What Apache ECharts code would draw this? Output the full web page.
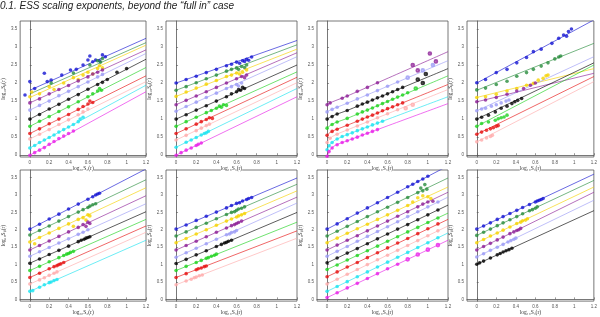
<!DOCTYPE html>
<html><head><meta charset="utf-8">
<script src="https://cdn.jsdelivr.net/npm/echarts@6/dist/echarts.min.js"></script>
<style>html,body{margin:0;padding:0;background:#fff}#c{width:600px;height:317px}</style>
</head><body><div id="c"></div>
<script>
const TITLE = '0.1. ESS scaling exponents, beyond the \u201cfull in\u201d case';
const X_TICKS = [0, 0.2, 0.4, 0.6, 0.8, 1, 1.2];
const Y_TICKS = [0, 0.5, 1, 1.5, 2, 2.5, 3, 3.5];
const X_NAME = 'log\u2081\u2080S\u2083(r)';
const Y_NAME = 'log\u2081\u2080S\u209a(r)';
const COLORS = {
  magenta: '#e81ee8', cyan: '#19e3f0', pink: '#ffaaaa', red: '#e60f0f', green: '#1ed21e',
  black: '#000000', lblue: '#9a9af5', purple: '#8c1e96', yellow: '#f5d200', dgreen: '#288c3c', blue: '#1414d2'
};
const LINE_X = [0, 1.2];
const LINE_X3 = [0, 0.03, 0.08, 0.2, 1.2];

// rows: [colour, line values at LINE_X (or null), point xs, point ys, hollow]
const P1 = [
  ['blue', [1.8, 3.24], [-0.05,0,0.05,0.15,0.18,0.22,0.33,0.42,0.48,0.55,0.6,0.62,0.65,0.68,0.72,0.75,0.78], [1.67,2.04,1.85,2.27,2.04,2.08,2.22,2.36,2.38,2.5,2.64,2.75,2.59,2.64,2.62,2.78,2.73]],
  ['dgreen', [1.7, 3.12], [0.22,0.45,0.62,0.7,0.73,0.75], [2.0,2.28,2.5,2.62,2.58,2.68]],
  ['yellow', [1.6, 3.05], [0,0.02,0.1,0.2,0.25,0.35,0.45,0.5,0.55,0.6,0.65,0.7,0.72,0.75], [1.62,1.75,1.7,1.9,1.82,2.0,2.15,2.1,2.22,2.3,2.25,2.4,2.48,2.42]],
  ['purple', [1.45, 2.92], [0,0.1,0.2,0.3,0.4,0.5,0.6,0.65,0.7,0.75], [1.45,1.56,1.7,1.82,1.93,2.06,2.17,2.25,2.3,2.36]],
  ['lblue', [1.25, 2.82], [0,0.1,0.2,0.3,0.4,0.5,0.6,0.7,0.75], [1.25,1.38,1.5,1.65,1.77,1.9,2.03,2.17,2.24]],
  ['black', [1.0, 2.66], [0,0.1,0.2,0.3,0.4,0.5,0.6,0.7,0.75,0.8,0.9,1.0], [1.0,1.13,1.28,1.41,1.55,1.68,1.83,1.96,2.02,2.1,2.3,2.4]],
  ['green', [0.8, 2.43], [0,0.1,0.2,0.3,0.4,0.5,0.6,0.65,0.7,0.72,0.74], [0.8,0.94,1.07,1.21,1.34,1.48,1.62,1.7,1.78,1.85,1.8]],
  ['red', [0.6, 2.2], [0,0.1,0.2,0.3,0.4,0.5,0.55,0.6,0.62,0.65], [0.6,0.73,0.87,1.0,1.13,1.27,1.35,1.42,1.5,1.46]],
  ['pink', [0.45, 2.04], [0,0.1,0.2,0.3,0.4,0.5,0.55,0.6], [0.45,0.58,0.71,0.85,0.98,1.12,1.2,1.28]],
  ['cyan', [0.2, 1.94], [0,0.05,0.1,0.15,0.2,0.25,0.3,0.35,0.4,0.45,0.5,0.52,0.55], [0.2,0.27,0.35,0.42,0.49,0.56,0.64,0.71,0.78,0.85,0.93,1.0,1.05]],
  ['magenta', [0, 1.76], [0,0.05,0.1,0.15,0.2,0.25,0.3,0.35,0.4,0.45], [0,0.07,0.14,0.21,0.3,0.38,0.46,0.53,0.6,0.67]]
];
const P2 = [
  ['blue', [2.0, 3.18], [0,0.1,0.2,0.3,0.4,0.5,0.55,0.6,0.63,0.66,0.68,0.7,0.72,0.75], [2.0,2.1,2.19,2.29,2.38,2.48,2.52,2.58,2.55,2.62,2.6,2.66,2.63,2.72]],
  ['dgreen', [1.8, 3.06], [0,0.1,0.2,0.3,0.4,0.5,0.55,0.6,0.62,0.65,0.68,0.7], [1.8,1.9,2.01,2.12,2.22,2.33,2.38,2.42,2.38,2.46,2.43,2.5]],
  ['yellow', [1.63, 2.94], [0,0.1,0.2,0.3,0.4,0.5,0.55,0.6,0.63,0.66,0.7], [1.63,1.75,1.86,1.97,2.07,2.18,2.22,2.28,2.25,2.3,2.36]],
  ['purple', [1.4, 2.84], [0,0.1,0.2,0.3,0.4,0.5,0.6,0.65,0.68,0.7], [1.4,1.52,1.64,1.76,1.88,2.0,2.12,2.18,2.15,2.22]],
  ['lblue', [1.22, 2.73], [0,0.1,0.2,0.3,0.4,0.5,0.55,0.6,0.62,0.65], [1.22,1.35,1.47,1.6,1.72,1.85,1.9,1.96,1.92,2.0]],
  ['black', [1.0, 2.5], [0,0.1,0.2,0.3,0.4,0.5,0.55,0.6,0.62,0.64,0.66,0.68], [1.0,1.12,1.25,1.37,1.5,1.62,1.7,1.76,1.82,1.8,1.88,1.85]],
  ['green', [0.8, 2.31], [0,0.1,0.2,0.3,0.35,0.4,0.43,0.45,0.47,0.5], [0.8,0.93,1.05,1.18,1.24,1.3,1.36,1.33,1.4,1.38]],
  ['red', [0.6, 2.16], [0,0.1,0.2,0.25,0.3,0.33,0.36], [0.6,0.73,0.86,0.93,0.99,1.04,1.02]],
  ['pink', [0.42, 2.01], [0,0.1,0.2,0.25,0.3,0.33], [0.42,0.55,0.68,0.75,0.82,0.86]],
  ['cyan', [0.22, 1.85], [0,0.1,0.15,0.2,0.25,0.28,0.3,0.32], [0.22,0.36,0.42,0.49,0.56,0.6,0.62,0.66]],
  ['magenta', [0, 1.62], [0,0.05,0.1,0.15,0.2,0.22,0.25], [0,0.07,0.14,0.2,0.27,0.3,0.34]]
];
const P3 = [
  ['purple', [1.4,1.45,1.51,1.64,2.87], [0,0.03,0.15,0.2,0.3,0.4,0.5], [1.4,1.45,1.58,1.64,1.77,1.88,2.01]],
  ['purple', null, [0.85,0.9,1.02,1.08], [2.5,2.35,2.82,2.6], true],
  ['lblue', [1.2,1.25,1.31,1.44,2.62], [0,0.05,0.1,0.2,0.3,0.4,0.5,0.6,0.7], [1.2,1.27,1.33,1.44,1.56,1.67,1.79,1.91,2.03]],
  ['lblue', null, [0.8,0.95,1.05], [2.15,2.35,2.5], true],
  ['black', [1.0,1.05,1.12,1.24,2.4], [0,0.05,0.1,0.2,0.3,0.35,0.4,0.45,0.5,0.55,0.6,0.65,0.7,0.75], [1.0,1.07,1.14,1.24,1.36,1.42,1.47,1.53,1.59,1.64,1.7,1.76,1.82,1.88]],
  ['black', null, [0.9,0.95,0.98], [2.1,2.0,2.25], true],
  ['green', [0.75,0.82,0.9,1.02,2.2], [0,0.05,0.1,0.2,0.3,0.35,0.4,0.45,0.5,0.55,0.6,0.65,0.7,0.75,0.8], [0.75,0.85,0.92,1.02,1.14,1.2,1.25,1.31,1.37,1.43,1.49,1.55,1.61,1.67,1.73]],
  ['green', null, [0.88], [1.85], true],
  ['red', [0.55,0.63,0.7,0.83,1.96], [0,0.05,0.1,0.2,0.3,0.35,0.4,0.45,0.5,0.55,0.6,0.65,0.7,0.75], [0.55,0.66,0.72,0.83,0.94,1.0,1.06,1.11,1.17,1.23,1.29,1.34,1.4,1.45]],
  ['pink', [0.35,0.47,0.56,0.7,1.82], [0,0.03,0.1,0.2,0.3,0.4,0.5,0.6,0.7], [0.35,0.47,0.58,0.7,0.81,0.92,1.04,1.15,1.26]],
  ['pink', null, [0.78,0.85], [1.3,1.4], true],
  ['cyan', [0.15,0.3,0.42,0.57,1.62], [0,0.02,0.05,0.1,0.15,0.2,0.25,0.3,0.35,0.4,0.45,0.5,0.55], [0.15,0.26,0.35,0.45,0.52,0.57,0.62,0.68,0.73,0.78,0.84,0.89,0.94]],
  ['magenta', [-0.05,0.15,0.27,0.4,1.43], [0,0.02,0.05,0.1,0.15,0.2,0.25,0.3,0.35,0.4,0.45,0.5], [-0.03,0.1,0.2,0.29,0.35,0.4,0.45,0.5,0.56,0.61,0.66,0.71]]
];
const P4 = [
  ['blue', [2.0, 3.75], [0,0.09,0.2,0.31,0.41,0.51,0.58,0.66,0.77,0.84,0.89,0.92,0.94,0.97], [2.01,2.1,2.29,2.38,2.56,2.71,2.87,2.94,3.1,3.24,3.33,3.3,3.43,3.5]],
  ['dgreen', [1.8, 3.1], [0,0.09,0.2,0.31,0.41,0.51,0.58,0.66,0.73,0.8,0.84,0.86], [1.81,1.86,1.96,2.05,2.19,2.29,2.38,2.47,2.56,2.67,2.72,2.75]],
  ['yellow', [1.6, 2.4], [0,0.09,0.2,0.31,0.41,0.51,0.58,0.63,0.68,0.71,0.73], [1.6,1.62,1.69,1.78,1.85,1.94,1.99,2.08,2.13,2.2,2.22]],
  ['purple', [1.48, 2.27], [0,0.09,0.2,0.31,0.41,0.48,0.55,0.6], [1.48,1.53,1.6,1.69,1.78,1.85,1.94,2.0]],
  ['lblue', [1.23, 2.73], [0,0.05,0.09,0.15,0.2,0.25,0.3,0.33], [1.23,1.28,1.3,1.36,1.4,1.45,1.5,1.53]],
  ['black', [1.0, 2.56], [0,0.05,0.12,0.19,0.25,0.31,0.36,0.39,0.42,0.46], [1.0,1.05,1.11,1.2,1.3,1.36,1.43,1.48,1.52,1.57]],
  ['green', [0.8, 2.5], [0,0.05,0.12,0.19,0.22,0.25,0.28,0.31], [0.8,0.88,0.92,0.97,1.01,1.04,1.06,1.11]],
  ['red', [0.58, 2.18], [0,0.05,0.1,0.14,0.17,0.2,0.22], [0.58,0.64,0.69,0.73,0.76,0.8,0.82]],
  ['pink', [0.37, 2.04], [0,0.05,0.1,0.14,0.16], [0.37,0.42,0.48,0.52,0.55]]
];
const P5 = [
  ['blue', [2.02, 3.75], [0,0.1,0.2,0.3,0.4,0.5,0.6,0.65,0.68,0.7,0.72], [2.02,2.16,2.31,2.45,2.6,2.74,2.88,2.95,3.0,3.03,3.05]],
  ['dgreen', [1.85, 3.44], [0,0.1,0.2,0.3,0.4,0.5,0.55,0.6,0.62,0.65,0.68], [1.85,1.98,2.11,2.25,2.38,2.51,2.58,2.64,2.68,2.72,2.75]],
  ['yellow', [1.65, 3.21], [0,0.05,0.1,0.2,0.3,0.4,0.45,0.5,0.55,0.58,0.6,0.62], [1.65,1.6,1.78,1.91,2.04,2.17,2.1,2.3,2.35,2.28,2.43,2.4]],
  ['purple', [1.42, 2.98], [0,0.1,0.2,0.3,0.4,0.5,0.55,0.58,0.6,0.62], [1.42,1.55,1.68,1.81,1.94,2.07,2.15,2.1,2.22,2.18]],
  ['lblue', [1.24, 2.75], [0,0.1,0.2,0.3,0.4,0.5,0.55,0.6], [1.24,1.37,1.49,1.62,1.74,1.87,1.93,2.0]],
  ['black', [1.04, 2.52], [0,0.1,0.2,0.3,0.4,0.5,0.53,0.56,0.58,0.6,0.62], [1.04,1.16,1.29,1.41,1.53,1.66,1.7,1.73,1.76,1.78,1.8]],
  ['green', [0.83, 2.3], [0,0.1,0.2,0.3,0.35,0.38,0.4,0.42,0.45], [0.83,0.95,1.08,1.2,1.26,1.3,1.32,1.35,1.38]],
  ['red', [0.63, 2.11], [0,0.1,0.2,0.25,0.28,0.3,0.32,0.35], [0.63,0.75,0.88,0.94,0.97,1.0,1.02,1.06]],
  ['pink', [0.44, 1.93], [0,0.1,0.15,0.2,0.25,0.28], [0.44,0.56,0.62,0.69,0.75,0.79]],
  ['cyan', [0.23, 1.7], [0,0.03,0.1,0.15,0.2,0.22,0.25,0.28], [0.23,0.25,0.35,0.42,0.48,0.5,0.54,0.57]]
];
const P6 = [
  ['blue', [2.02, 3.49], [0,0.1,0.2,0.3,0.4,0.5,0.55,0.6,0.63,0.66,0.7,0.72,0.75], [2.02,2.14,2.27,2.39,2.51,2.63,2.7,2.76,2.78,2.83,2.87,2.9,2.93]],
  ['dgreen', [1.82, 3.31], [0,0.1,0.2,0.3,0.4,0.5,0.55,0.58,0.6,0.62,0.65,0.68], [1.82,1.94,2.07,2.19,2.32,2.44,2.5,2.52,2.56,2.6,2.62,2.66]],
  ['yellow', [1.63, 3.12], [0,0.1,0.2,0.3,0.4,0.5,0.55,0.6,0.62,0.65,0.68], [1.63,1.75,1.88,2.0,2.13,2.25,2.31,2.37,2.4,2.43,2.47]],
  ['purple', [1.42, 2.94], [0,0.1,0.2,0.3,0.4,0.5,0.55,0.58,0.6,0.62,0.65], [1.42,1.55,1.67,1.8,1.93,2.05,2.12,2.15,2.18,2.21,2.25]],
  ['lblue', [1.21, 2.77], [0,0.1,0.2,0.3,0.4,0.5,0.53,0.55,0.58,0.6], [1.21,1.34,1.47,1.6,1.73,1.86,1.88,1.92,1.94,1.98]],
  ['black', [1.03, 2.5], [0,0.1,0.2,0.3,0.4,0.45,0.48,0.5,0.52,0.55], [1.03,1.15,1.28,1.4,1.52,1.58,1.62,1.64,1.67,1.7]],
  ['green', [0.83, 2.22], [0,0.1,0.2,0.25,0.3,0.32,0.35,0.38,0.4], [0.83,0.95,1.06,1.12,1.18,1.2,1.24,1.27,1.3]],
  ['red', [0.63, 1.97], [0,0.1,0.2,0.22,0.25,0.28,0.3], [0.63,0.74,0.85,0.88,0.9,0.94,0.96]],
  ['pink', [0.42, 1.76], [0,0.1,0.15,0.18,0.2,0.23,0.26], [0.42,0.53,0.58,0.62,0.64,0.68,0.7]]
];
const P7 = [
  ['blue', [2.02, 3.84], [0,0.1,0.2,0.3,0.4,0.5,0.6,0.7,0.8,0.85,0.9,0.95,1.0], [2.02,2.17,2.32,2.48,2.63,2.78,2.93,3.08,3.24,3.31,3.39,3.46,3.54]],
  ['dgreen', [1.82, 3.49], [0,0.1,0.2,0.3,0.4,0.5,0.6,0.7,0.8,0.9,0.93,0.95,0.97,0.99], [1.82,1.96,2.1,2.24,2.38,2.52,2.65,2.79,2.93,3.07,3.2,3.12,3.3,3.17]],
  ['yellow', [1.63, 3.23], [0,0.1,0.2,0.3,0.4,0.5,0.6,0.7,0.8,0.85,0.9,0.95,1.0,1.03], [1.63,1.76,1.9,2.03,2.16,2.3,2.43,2.56,2.7,2.8,2.92,2.98,2.95,2.9]],
  ['purple', [1.42, 3.08], [0,0.1,0.2,0.3,0.4,0.5,0.6,0.7,0.8,0.9,0.95,1.0,1.05], [1.42,1.56,1.7,1.83,1.97,2.11,2.25,2.39,2.52,2.66,2.74,2.8,2.82]],
  ['lblue', [1.24, 2.94], [0,0.1,0.2,0.3,0.4,0.5,0.6,0.7,0.8,0.9,1.0,1.1], [1.24,1.38,1.52,1.67,1.81,1.95,2.09,2.23,2.38,2.52,2.66,2.8]],
  ['black', [1.05, 2.71], [0,0.1,0.2,0.3,0.4,0.5,0.6,0.7,0.8,0.9,1.0,1.1], [1.05,1.19,1.33,1.46,1.6,1.74,1.88,2.02,2.15,2.29,2.43,2.57]],
  ['green', [0.86, 2.48], [0,0.1,0.2,0.3,0.4,0.5,0.6,0.7,0.8,0.9,1.0,1.1], [0.86,0.99,1.13,1.26,1.4,1.53,1.67,1.8,1.94,2.07,2.21,2.34]],
  ['red', [0.65, 2.3], [0,0.1,0.2,0.3,0.4,0.5,0.6,0.7,0.8,0.9,1.0,1.1], [0.65,0.79,0.93,1.06,1.2,1.34,1.48,1.62,1.75,1.89,2.03,2.17]],
  ['pink', [0.44, 2.11], [0,0.1,0.2,0.3,0.4,0.5,0.6,0.7,0.8,0.9,1.0,1.1], [0.44,0.58,0.72,0.86,1.0,1.14,1.27,1.41,1.55,1.69,1.83,1.97]],
  ['cyan', [0.23, 1.91], [0,0.1,0.2,0.3,0.4,0.5,0.6,0.7,0.8,0.9,1.0,1.1], [0.23,0.37,0.51,0.65,0.79,0.93,1.07,1.21,1.35,1.49,1.63,1.77]],
  ['magenta', [0.05, 1.7], [0,0.1,0.2,0.3,0.4,0.5,0.6,0.7], [0.05,0.19,0.33,0.46,0.6,0.74,0.88,1.01]],
  ['magenta', null, [0.8,0.9,1.0,1.1], [1.15,1.29,1.43,1.56], true]
];
const P8 = [
  ['blue', [2.02, 3.6], [0,0.07,0.14,0.21,0.27,0.34,0.41,0.47,0.54,0.6,0.62,0.64,0.66,0.68], [2.02,2.11,2.2,2.3,2.38,2.47,2.56,2.64,2.73,2.8,2.83,2.85,2.87,2.9]],
  ['dgreen', [1.84, 3.42], [0,0.07,0.14,0.21,0.27,0.34,0.41,0.47,0.54,0.57,0.6,0.62], [1.84,1.93,2.02,2.12,2.2,2.29,2.38,2.46,2.55,2.58,2.62,2.66]],
  ['yellow', [1.63, 3.23], [0,0.07,0.14,0.21,0.27,0.34,0.41,0.45,0.47,0.5,0.52], [1.63,1.72,1.82,1.91,1.99,2.08,2.18,2.22,2.26,2.28,2.32]],
  ['purple', [1.42, 3.08], [0,0.07,0.14,0.21,0.27,0.34,0.38,0.41,0.43,0.45], [1.42,1.52,1.61,1.71,1.79,1.89,1.94,1.98,2.0,2.04]],
  ['lblue', [1.22, 2.85], [0,0.07,0.14,0.21,0.27,0.32,0.35,0.38,0.4], [1.22,1.31,1.41,1.5,1.58,1.65,1.69,1.73,1.76]],
  ['black', [1.01, 2.55], [0,0.03,0.07,0.14,0.21,0.24,0.27,0.3,0.33,0.36], [1.01,1.05,1.1,1.19,1.28,1.32,1.36,1.4,1.43,1.47]]
];
const PANELS = [P1, P2, P3, P4, P5, P6, P7, P8];
const PANEL_LINE_X = [LINE_X, LINE_X, LINE_X3, LINE_X, LINE_X, LINE_X, LINE_X, LINE_X];

const LEFTS = [15, 166, 317, 467];
const grids = [], xAxes = [], yAxes = [], series = [];
const AX = '#555';
PANELS.forEach((rows, i) => {
  const row = Math.floor(i / 4), col = i % 4;
  grids.push({left: LEFTS[col], top: row === 0 ? 21 : 170, width: 131, height: 136,
    show: true, borderColor: AX, borderWidth: 0.8, backgroundColor: '#fff'});
  xAxes.push({gridIndex: i, type: 'value', min: -0.1, max: 1.2,
    axisLine: {show: true, lineStyle: {color: AX, width: 0.8}},
    axisTick: {show: true, inside: true, length: 2, customValues: X_TICKS, lineStyle: {color: AX, width: 0.6}},
    axisLabel: {show: true, customValues: X_TICKS, fontSize: 4.5, color: '#555', margin: 3, fontFamily: 'Liberation Sans'},
    splitLine: {show: false},
    name: X_NAME, nameLocation: 'middle', nameGap: 5,
    nameTextStyle: {fontSize: 5.5, color: '#333', fontFamily: 'Liberation Serif', backgroundColor: '#fff'}});
  yAxes.push({gridIndex: i, type: 'value', min: -0.05, max: 3.72,
    axisLine: {show: true, lineStyle: {color: AX, width: 0.8}},
    axisTick: {show: true, inside: true, length: 2, customValues: Y_TICKS, lineStyle: {color: AX, width: 0.6}},
    axisLabel: {show: true, customValues: Y_TICKS, fontSize: 4.5, color: '#555', margin: 3, fontFamily: 'Liberation Sans'},
    splitLine: {show: false},
    name: Y_NAME, nameLocation: 'middle', nameGap: 9,
    nameTextStyle: {fontSize: 5.5, color: '#333', fontFamily: 'Liberation Serif'}});
  const lx = PANEL_LINE_X[i];
  rows.forEach(r => {
    const c = COLORS[r[0]];
    if (r[1]) {
      series.push({type: 'line', xAxisIndex: i, yAxisIndex: i, silent: true, showSymbol: false, clip: true,
        data: lx.map((x, k) => [x, r[1][k]]), smooth: lx.length > 2 ? 0.3 : false,
        lineStyle: {color: c, width: 0.8, opacity: 0.8}, z: 1});
    }
    series.push({type: 'scatter', xAxisIndex: i, yAxisIndex: i, silent: true, clip: true,
      symbol: r[4] ? 'emptyCircle' : 'circle', symbolSize: r[4] ? 2.6 : 3.6,
      data: r[2].map((x, k) => [x, r[3][k]]),
      itemStyle: {color: c, borderColor: c, borderWidth: r[4] ? 0.6 : 0}, z: 2});
  });
});

const chart = echarts.init(document.getElementById('c'), null, {renderer: 'canvas'});
chart.setOption({
  backgroundColor: '#fff',
  animation: false,
  title: {text: TITLE, left: 0, top: 0, padding: [1, 0, 0, 0],
    textStyle: {fontSize: 10, fontStyle: 'italic', fontWeight: 'normal', color: '#222', fontFamily: 'Liberation Sans'}},
  grid: grids, xAxis: xAxes, yAxis: yAxes, series: series
});
</script></body></html>
